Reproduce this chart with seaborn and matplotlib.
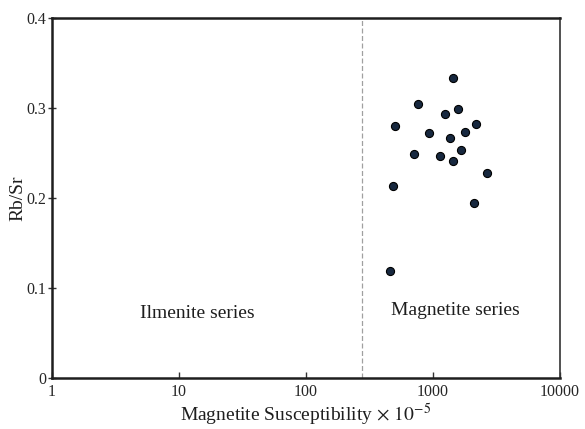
import matplotlib
matplotlib.use("Agg")
import matplotlib.pyplot as plt
import seaborn as sns
import pandas as pd
from matplotlib.ticker import FixedLocator, FixedFormatter, NullLocator

# Magnetic susceptibility (x 10^-5 SI) and Rb/Sr ratio of the granite samples
susceptibility = [1436, 764, 1250, 1564, 499, 931, 1369, 1777, 2183,
                  714, 1129, 1670, 1452, 2651, 481, 2104, 459]
rb_sr = [0.333, 0.304, 0.293, 0.299, 0.280, 0.272, 0.266, 0.273, 0.282,
         0.249, 0.247, 0.253, 0.241, 0.228, 0.213, 0.194, 0.118]

# Ilmenite / magnetite series boundary
boundary = 275

x_ticks = [1, 10, 100, 1000, 10000]
x_tick_labels = ["1", "10", "100", "1000", "10000"]
y_ticks = [0, 0.1, 0.2, 0.3, 0.4]
y_tick_labels = ["0", "0.1", "0.2", "0.3", "0.4"]

df = pd.DataFrame({"sus": susceptibility, "rbsr": rb_sr})

sns.set_style("white")
plt.rcParams["font.family"] = ["Liberation Serif", "DejaVu Serif"]
plt.rcParams["mathtext.fontset"] = "stix"

fig = plt.figure(figsize=(5.85, 4.29), dpi=100)
ax = fig.add_axes([0.089, 0.12, 0.868, 0.838])

ax.axvline(boundary, color="#a0a0a0", lw=0.9, ls=(0, (4, 2)), zorder=1)

sns.scatterplot(data=df, x="sus", y="rbsr", ax=ax, s=34, color="#17283f",
                edgecolor="#000000", linewidth=0.8, zorder=3, legend=False)

ax.set_xscale("log")
ax.set_xlim(1, 10000)
ax.set_ylim(0, 0.4)

ax.xaxis.set_major_locator(FixedLocator(x_ticks))
ax.xaxis.set_major_formatter(FixedFormatter(x_tick_labels))
ax.xaxis.set_minor_locator(NullLocator())
ax.yaxis.set_major_locator(FixedLocator(y_ticks))
ax.yaxis.set_major_formatter(FixedFormatter(y_tick_labels))

ax.tick_params(axis="x", direction="in", length=4, width=1, color="#333333",
               labelsize=11.5, pad=5, bottom=True)
ax.tick_params(axis="y", direction="inout", length=6, width=1, color="#333333",
               labelsize=11.5, pad=1, left=True)

for side in ["left", "bottom", "top"]:
    ax.spines[side].set_linewidth(1.8)
    ax.spines[side].set_color("#1e1e1e")
ax.spines["right"].set_linewidth(1.2)
ax.spines["right"].set_color("#333333")

ax.set_xlabel(r"Magnetite Susceptibility$\,\times\,10^{-5}$", fontsize=14,
              labelpad=1, color="#1e1e1e")
ax.set_ylabel("Rb/Sr", fontsize=14, labelpad=0, color="#1e1e1e")

ax.text(14, 0.071, "Ilmenite series", fontsize=14, ha="center", va="center",
        color="#1e1e1e")
ax.text(1500, 0.075, "Magnetite series", fontsize=14, ha="center", va="center",
        color="#1e1e1e")

fig.savefig("out.png", dpi=100, facecolor="white")
